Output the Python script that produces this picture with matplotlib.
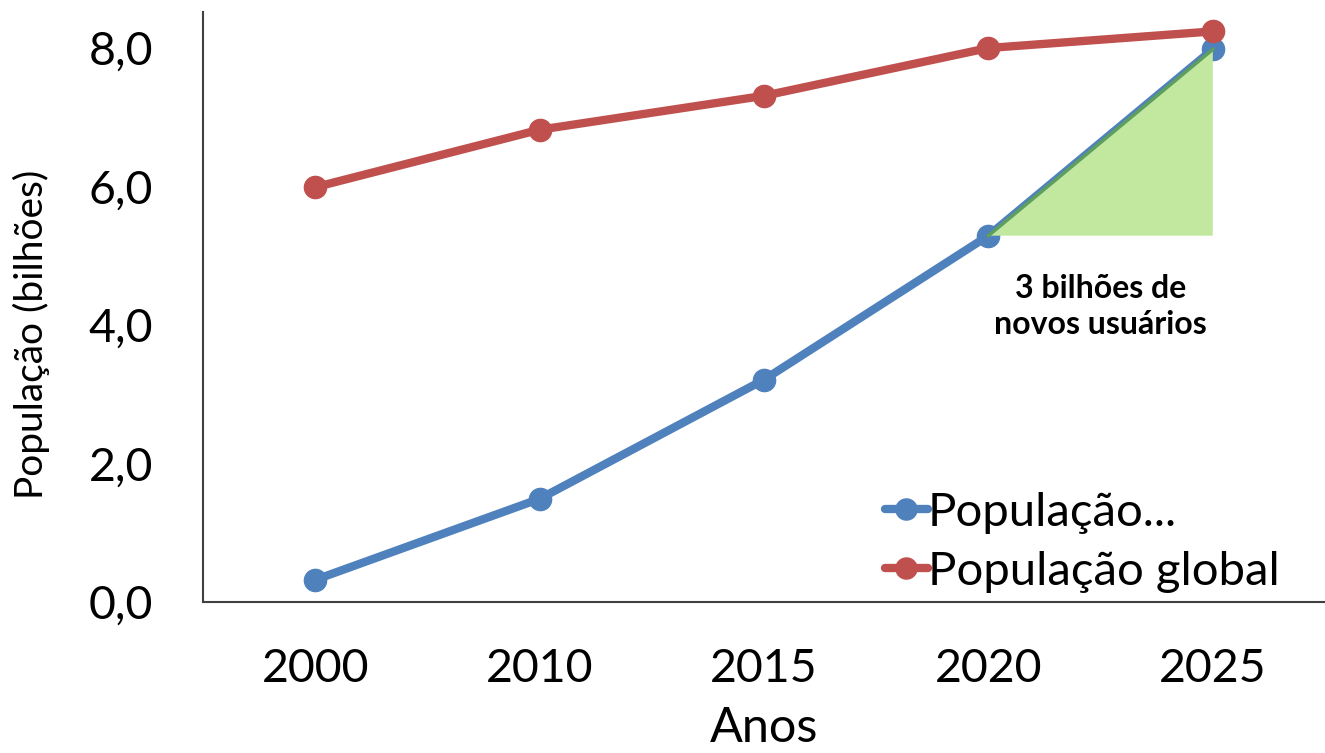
import matplotlib
matplotlib.use("Agg")
import matplotlib.pyplot as plt

# Data (billions of people)
years = ["2000", "2010", "2015", "2020", "2025"]
internet_users = [0.32, 1.49, 3.21, 5.29, 7.98]
global_population = [5.99, 6.82, 7.31, 8.00, 8.24]
series_labels = ["População...", "População global"]
y_ticks = [0.0, 2.0, 4.0, 6.0, 8.0]
note_text = "3 bilhões de\nnovos usuários"

BLUE = "#4F81BD"
RED = "#C0504D"
GREEN_FILL = "#C2E79F"
GREEN_EDGE = "#5E9E5E"
FONT = "Lato"

plt.rcParams["font.family"] = [FONT, "DejaVu Sans"]

fig = plt.figure(figsize=(13.25, 7.53), dpi=100)
ax = fig.add_axes([203 / 1325, 1 - 602 / 753, 1 - 203 / 1325, (602 - 12) / 753])

x = list(range(len(years)))

ax.plot(x, internet_users, color=BLUE, lw=6, marker="o", ms=16,
        solid_capstyle="round", label=series_labels[0], zorder=3)

# Growth triangle between 2020 and 2025
tri_x = [x[3], x[4], x[4]]
tri_y = [internet_users[3], internet_users[4], internet_users[3]]
ax.fill(tri_x, tri_y, facecolor=GREEN_FILL, edgecolor="none", zorder=4)
ax.plot(tri_x[:2], tri_y[:2], color=GREEN_EDGE, lw=2.5, zorder=4)

ax.plot(x, global_population, color=RED, lw=6, marker="o", ms=16,
        solid_capstyle="round", label=series_labels[1], zorder=5)

ax.text((x[3] + x[4]) / 2, 4.27, note_text, ha="center", va="center",
        fontsize=23, fontweight="bold", linespacing=1.3, zorder=6)

ax.set_xlim(-0.5, len(years) - 0.5)
ax.set_ylim(0, 8.52)
ax.set_xticks(x)
ax.set_xticklabels(years)
ax.set_yticks(y_ticks)
ax.set_yticklabels([f"{v:.1f}".replace(".", ",") for v in y_ticks])
ax.tick_params(axis="both", length=0, labelsize=33.5)
ax.tick_params(axis="y", pad=36)
ax.tick_params(axis="x", pad=33)

for side in ("top", "right"):
    ax.spines[side].set_visible(False)
for side in ("left", "bottom"):
    ax.spines[side].set_color("#404040")
    ax.spines[side].set_linewidth(1.5)

fig.text(31 / 1325, 1 - 334 / 753, "População (bilhões)", rotation=90,
         ha="center", va="center", fontsize=28)
fig.text(764 / 1325, 1 - 728 / 753, "Anos", ha="center", va="center",
         fontsize=35)

leg = ax.legend(loc="upper left", bbox_to_anchor=((885 - 203) / 1122, (602 - 492) / 590),
                frameon=False, fontsize=34, handlelength=0.9, handletextpad=0.0,
                labelspacing=0.36, borderaxespad=0.0, borderpad=0.0,
                markerscale=0.95)

fig.savefig("out.png", dpi=100)
